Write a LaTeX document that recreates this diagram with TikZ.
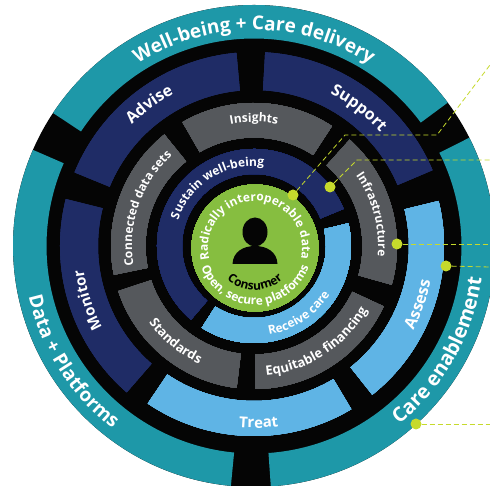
\documentclass[tikz,border=0pt]{standalone}
\usepackage{fontspec}
\setmainfont{Open Sans}
\usetikzlibrary{decorations.text}
\definecolor{tealc}{HTML}{1E98A8}
\definecolor{navyc}{HTML}{1F2C66}
\definecolor{bluec}{HTML}{5FB4E5}
\definecolor{grayc}{HTML}{55585C}
\definecolor{greenc}{HTML}{86BE40}
\definecolor{limec}{HTML}{C6DA2C}
\definecolor{blackc}{HTML}{050505}
\tikzset{
    dot/.style={circle,fill=limec,inner sep=0pt,minimum size=11pt},
    leader/.style={limec,line width=0.8pt,dash pattern=on 5pt off 3pt},
    core/.style={shift={(1,-2)}},
}
% ring piece: r1, r2, from angle, to angle
\newcommand{\ringpart}[5]{\fill[#5] (#3:#1) arc[start angle=#3,end angle=#4,radius=#1]
    -- (#4:#2) arc[start angle=#4,end angle=#3,radius=#2] -- cycle;}
% text on an arc: size, radius, middle angle, colour, text
\newcommand{\overtext}[6][]{\path[#1,decorate,decoration={text along path,text align=center,
    text={|\fontsize{#2}{#2}\selectfont\bfseries\color{#5}|#6}}]
    (#4+160:#3) arc[start angle=#4+160,end angle=#4-160,radius=#3];}
\newcommand{\undertext}[6][]{\path[#1,decorate,decoration={text along path,text align=center,
    text={|\fontsize{#2}{#2}\selectfont\bfseries\color{#5}|#6}}]
    (#4-160:#3) arc[start angle=#4-160,end angle=#4+160,radius=#3];}
\begin{document}
\begin{tikzpicture}[x=1pt,y=1pt]
    \useasboundingbox (0,0) rectangle (490,486);
    \clip (0,0) rectangle (490,486);
    \fill[white] (0,0) rectangle (490,486);
    \begin{scope}[shift={(254,240)}]
    \fill[blackc] (0,0) circle[radius=241];
    % outer ring
    \foreach \aa/\bb in {36.5/146.5,156.5/264.5,-86/26.7}
        \ringpart{241}{207.5}{\aa}{\bb}{tealc}
    % second ring
    \foreach \aa/\bb in {95.2/157.7,23/86.7,166/229}
        \ringpart{194}{156}{\aa}{\bb}{navyc}
    \foreach \aa/\bb in {-51.5/13.7,-124/-59.2}
        \ringpart{190}{155}{\aa}{\bb}{bluec}
    % third ring
    \foreach \aa/\bb in {57/120,-15.7/48,-89.3/-25,198.4/263,128.8/191.6}
        \ringpart{143}{108.5}{\aa}{\bb}{grayc}
    % fourth ring
    \foreach \aa/\bb/\col in {22.5/229.5/navyc,-122.5/13.5/bluec}
        \ringpart{97}{72}{\aa}{\bb}{\col}
    \fill[greenc,core] (0,0) circle[radius=63.5];
    % consumer
    \fill[blackc,core] (0,16) ellipse[x radius=12.5,y radius=14.5];
    \fill[blackc,core] (-22.5,-16) .. controls (-22,-4) and (-12,2) .. (0,2)
        .. controls (12,2) and (22,-4) .. (22.5,-16) -- cycle;
    \overtext{19}{216}{90}{white}{Well-being + Care delivery}
    \undertext{19}{231}{212.5}{white}{Data + Platforms}
    \undertext{20}{230}{-29.5}{white}{Care enablement}
    \overtext{16}{172}{126.5}{white}{Advise}
    \overtext{16}{170}{52.7}{white}{Support}
    \overtext{15}{172}{198}{white}{Monitor}
    \undertext{16}{180}{-19.5}{white}{Assess}
    \undertext{15}{182}{271.5}{white}{Treat}
    \overtext{12}{124}{90}{white}{Insights}
    \overtext{12}{124}{15}{white}{Infrastructure}
    \overtext{12}{122}{160.7}{white}{Connected data sets}
    \undertext{13}{130}{-57}{white}{Equitable financing}
    \undertext{13}{130}{230.5}{white}{Standards}
    \overtext{12}{80}{122}{white}{Sustain well-being}
    \undertext{12}{90}{-56.5}{white}{Receive care}
    \overtext[core]{12}{47}{90.5}{white}{Radically interoperable data}
    \undertext[core]{12}{57}{270}{white}{Open, secure platforms}
    \undertext[core]{12}{42}{270}{black}{Consumer}
    \end{scope}
    % call-outs
    \node[dot] (d1) at (293,291) {};
    \node[dot] (d2) at (330,299) {};
    \node[dot] (d3) at (397,242) {};
    \node[dot] (d4) at (446,220) {};
    \node[dot] (d5) at (416,62) {};
    \coordinate (k1) at (345,351);
    \coordinate (k2) at (437,351);
    \coordinate (k3) at (357,326);
    \coordinate (e1) at (490,421);
    \coordinate (e2) at (490,326);
    \coordinate (e3) at (490,242);
    \coordinate (e4) at (490,219);
    \coordinate (e5) at (490,62);
    \draw[leader] (d1)--(k1)--(k2)--(e1);
    \draw[leader] (d2)--(k3)--(e2);
    \draw[leader] (d3)--(e3);
    \draw[leader] (d4)--(e4);
    \draw[leader] (d5)--(e5);
\end{tikzpicture}
\end{document}
